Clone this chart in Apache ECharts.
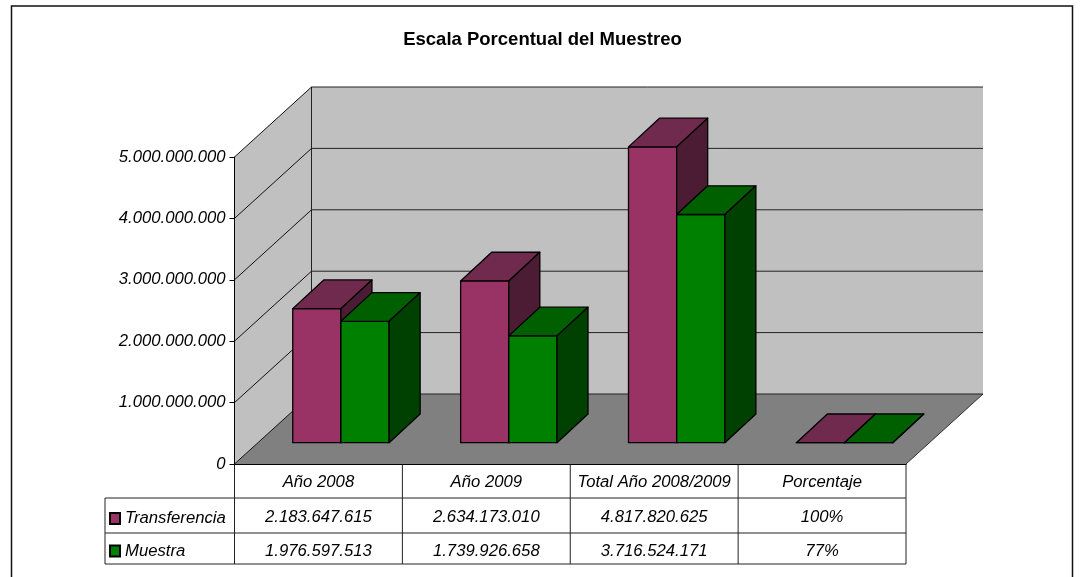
<!DOCTYPE html>
<html>
<head>
<meta charset="utf-8">
<style>html,body{margin:0;padding:0;background:#fff}#c{width:1081px;height:577px}</style>
<script src="https://cdn.jsdelivr.net/npm/echarts@6/dist/echarts.min.js"></script>
</head>
<body>
<div id="c"></div>
<script>
const chartTitle = 'Escala Porcentual del Muestreo';
const categories = ['Año 2008', 'Año 2009', 'Total Año 2008/2009', 'Porcentaje'];
const transferencia = [2183647615, 2634173010, 4817820625, 100];
const muestra = [1976597513, 1739926658, 3716524171, 77];
const transferenciaLabels = ['2.183.647.615', '2.634.173.010', '4.817.820.625', '100%'];
const muestraLabels = ['1.976.597.513', '1.739.926.658', '3.716.524.171', '77%'];
const yTicks = [0, 1000000000, 2000000000, 3000000000, 4000000000, 5000000000];

const FONT = '"Liberation Sans", Arial, sans-serif';
const TEXT_SIZE = 16.7;
const WALL_DX = 77, WALL_DY = -70;
const FLOOR_DX = 22.5, FLOOR_DY = -21.3;
const DEPTH_DX = 31, DEPTH_DY = -28.7;
const BAR_FRAC = 48.2 / 167.9;
const ROW_LINES = [34, 69, 100];
const ROW_TEXT = [53.5, 87];
const TABLE_LEFT = 105;

const line = (x1, y1, x2, y2, color, width) => ({
  type: 'line', silent: true,
  shape: { x1, y1, x2, y2 },
  style: { stroke: color || '#000', lineWidth: width || 1 }
});
const poly = (points, fill, stroke) => ({
  type: 'polygon', silent: true,
  shape: { points },
  style: { fill, stroke: stroke || 'none', lineWidth: stroke ? 1.3 : 1, lineJoin: 'round' }
});

function renderWalls(params, api) {
  const a = api.coord([0, 0]);
  const band = api.size([1, 0])[0];
  const x0 = a[0] - band / 2, y0 = a[1];
  const x1 = x0 + band * categories.length;
  const top = api.coord([0, api.value(1)])[1];
  return {
    type: 'group',
    children: [
      poly([[x0, y0], [x0 + WALL_DX, y0 + WALL_DY], [x0 + WALL_DX, top + WALL_DY], [x0, top]], '#c0c0c0'),
      poly([[x0 + WALL_DX, y0 + WALL_DY], [x1 + WALL_DX, y0 + WALL_DY], [x1 + WALL_DX, top + WALL_DY], [x0 + WALL_DX, top + WALL_DY]], '#c0c0c0'),
      poly([[x0, y0], [x1, y0], [x1 + WALL_DX, y0 + WALL_DY], [x0 + WALL_DX, y0 + WALL_DY]], '#808080'),
      line(x0 + WALL_DX, y0 + WALL_DY, x0 + WALL_DX, top + WALL_DY, '#222'),
      line(x1, y0, x1 + WALL_DX, y0 + WALL_DY, '#333')
    ]
  };
}
function renderGrid(params, api) {
  const a = api.coord([0, api.value(1)]);
  const band = api.size([1, 0])[0];
  const x0 = a[0] - band / 2, y = a[1];
  const x1 = x0 + band * categories.length;
  return {
    type: 'group',
    children: [
      line(x0, y, x0 + WALL_DX, y + WALL_DY, '#111'),
      line(x0 + WALL_DX, y + WALL_DY, x1 + WALL_DX, y + WALL_DY, '#222')
    ]
  };
}
function barRenderer(side, colors) {
  return function (params, api) {
    const i = api.value(0);
    const c = api.coord([i, 0]);
    const t = api.coord([i, api.value(1)]);
    const w = api.size([1, 0])[0] * BAR_FRAC;
    const cx = c[0] + FLOOR_DX;
    const l = side === 0 ? cx - w : cx, r = l + w;
    const b = c[1] + FLOOR_DY, h = t[1] + FLOOR_DY;
    return {
      type: 'group',
      children: [
        poly([[l, b], [r, b], [r, h], [l, h]], colors[0], '#000'),
        poly([[l, h], [r, h], [r + DEPTH_DX, h + DEPTH_DY], [l + DEPTH_DX, h + DEPTH_DY]], colors[1], '#000'),
        poly([[r, b], [r + DEPTH_DX, b + DEPTH_DY], [r + DEPTH_DX, h + DEPTH_DY], [r, h]], colors[2], '#000')
      ]
    };
  };
}
function renderTable(params, api) {
  const i = api.value(0);
  const c = api.coord([i, 0]);
  const band = api.size([1, 0])[0];
  const left = c[0] - band / 2, right = c[0] + band / 2, y0 = c[1];
  const cell = (s, dy) => ({
    type: 'text', silent: true,
    style: { x: c[0], y: y0 + dy, text: s, fill: '#000', font: 'italic ' + TEXT_SIZE + 'px ' + FONT, align: 'center', verticalAlign: 'middle' }
  });
  const kids = [
    line(left, y0, left, y0 + ROW_LINES[2], '#222'),
    cell(transferenciaLabels[i], ROW_TEXT[0]),
    cell(muestraLabels[i], ROW_TEXT[1])
  ];
  if (i === categories.length - 1) kids.push(line(right, y0, right, y0 + ROW_LINES[2], '#222'));
  if (i === 0) {
    kids.push(line(TABLE_LEFT, y0 + ROW_LINES[0], TABLE_LEFT, y0 + ROW_LINES[2], '#222'));
  }
  const start = i === 0 ? TABLE_LEFT : left;
  ROW_LINES.forEach(d => kids.push(line(start, y0 + d, right, y0 + d, '#222')));
  return { type: 'group', children: kids };
}

const chart = echarts.init(document.getElementById('c'), null, { renderer: 'canvas' });
const purple = ['#993366', '#6f2a4d', '#4c1c35'];
const green = ['#008000', '#006000', '#004000'];
chart.setOption({
  animation: false,
  backgroundColor: '#fff',
  title: {
    text: chartTitle, left: 537.5, top: 25, textAlign: 'center',
    textStyle: { fontFamily: FONT, fontWeight: 'bold', fontSize: 18.5, color: '#000' }
  },
  legend: {
    data: ['Transferencia', 'Muestra'], orient: 'vertical', left: 109, top: 510,
    itemWidth: 10, itemHeight: 11, itemGap: 15.5, selectedMode: false, icon: 'rect',
    textStyle: { fontFamily: FONT, fontStyle: 'italic', fontSize: TEXT_SIZE, color: '#000', padding: [0, 0, 0, 0] },
    padding: 0
  },
  grid: { left: 234.5, top: 157, width: 671.5, height: 307 },
  xAxis: {
    type: 'category', data: categories, z: 5,
    axisLine: { lineStyle: { color: '#000', width: 1 } },
    axisTick: { show: false },
    axisLabel: { interval: 0, margin: 10, fontFamily: FONT, fontStyle: 'italic', fontSize: TEXT_SIZE, color: '#000' }
  },
  yAxis: {
    type: 'value', min: 0, max: 5000000000, interval: 1000000000, z: 5,
    axisLine: { show: true, lineStyle: { color: '#000', width: 1 } },
    axisTick: { show: true, length: 5, lineStyle: { color: '#000' } },
    splitLine: { show: false },
    axisLabel: {
      margin: 9, padding: [3, 0, 0, 0], fontFamily: FONT, fontStyle: 'italic', fontSize: TEXT_SIZE, color: '#000',
      formatter: v => String(v).replace(/\B(?=(\d{3})+$)/g, '.')
    }
  },
  series: [
    { type: 'custom', name: 'walls', silent: true, renderItem: renderWalls, encode: { x: 0, y: 1 },
      data: [[0, yTicks[yTicks.length - 1]]], z: 1 },
    { type: 'custom', name: 'grid', silent: true, renderItem: renderGrid, encode: { x: 0, y: 1 },
      data: yTicks.map(v => [0, v]), z: 1 },
    { type: 'custom', name: 'Transferencia', silent: true, renderItem: barRenderer(0, purple), encode: { x: 0, y: 1 },
      itemStyle: { color: purple[0], borderColor: '#000', borderWidth: 1 },
      data: transferencia.map((v, i) => [i, v]), z: 2 },
    { type: 'custom', name: 'Muestra', silent: true, renderItem: barRenderer(1, green), encode: { x: 0, y: 1 },
      itemStyle: { color: green[0], borderColor: '#000', borderWidth: 1 },
      data: muestra.map((v, i) => [i, v]), z: 3 },
    { type: 'custom', name: 'table', silent: true, renderItem: renderTable, encode: { x: 0, y: 1 },
      data: categories.map((c, i) => [i, 0]), z: 4 }
  ],
  graphic: [
    { type: 'polyline', silent: true, shape: { points: [[11.5, 577], [11.5, 6], [1072.5, 6], [1072.5, 577]] },
      style: { stroke: '#111', lineWidth: 1.5, fill: 'none' } }
  ]
});
</script>
</body>
</html>
